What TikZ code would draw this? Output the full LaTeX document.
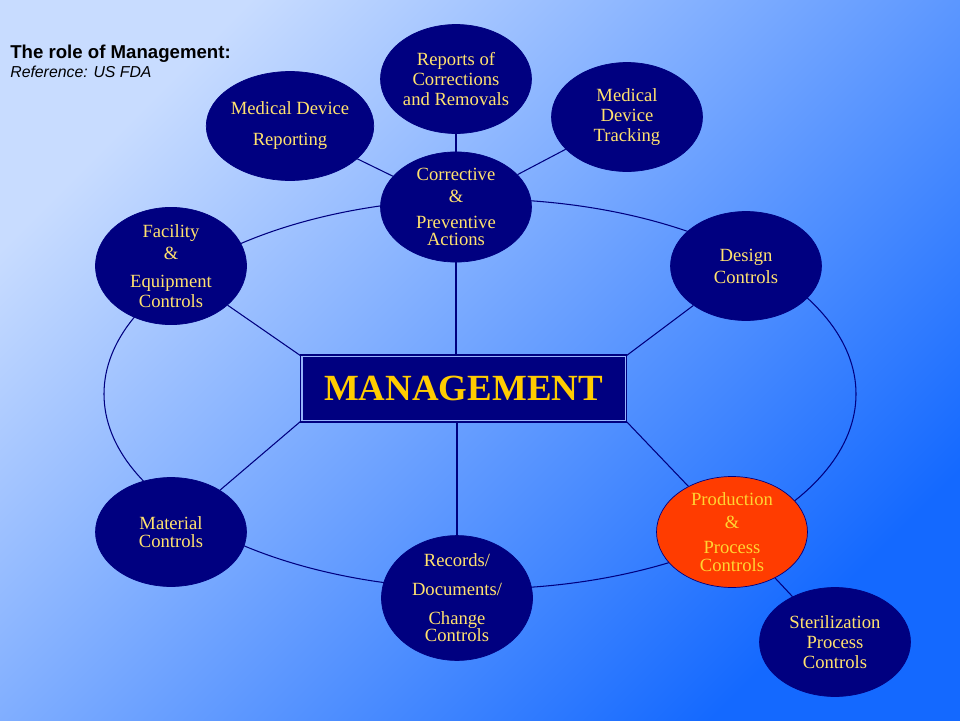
\documentclass[tikz,border=0pt]{standalone}
\usepackage{fontspec}
\setmainfont{Liberation Serif}
\newfontfamily\titlefont{Liberation Sans}
\usepackage{xcolor}
\usepackage{tikz}
\usetikzlibrary{shapes.geometric, positioning}

\definecolor{navy}{RGB}{0,0,128}
\definecolor{paleyellow}{RGB}{255,226,110}
\definecolor{gold}{RGB}{255,204,0}
\definecolor{redorange}{RGB}{255,60,0}
\definecolor{prodtext}{RGB}{255,212,50}
\definecolor{bgtop}{RGB}{200,220,255}
\definecolor{bgbottom}{RGB}{20,105,255}
\definecolor{band}{RGB}{150,180,250}

\begin{document}
\begin{tikzpicture}[x=0.02cm, y=-0.02cm,
    area/.style={ellipse, draw=navy, fill=navy, text=paleyellow, minimum width=3.02cm,
      minimum height=2.18cm, inner sep=0pt, align=center, font=\fontsize{10.6}{10}\selectfont},
    link/.style={draw=navy, line width=0.6pt}]
      \shade[top color=bgtop, bottom color=bgbottom, shading angle=45] (0,0) rectangle (960,720);
      \draw[link] (480,394) ellipse [x radius=376, y radius=195];

      \node[anchor=base west, inner sep=0pt, font=\titlefont\bfseries\fontsize{10.6}{12}\selectfont] (title) at (10,58) {The role of Management:};
      \node[anchor=base west, inner sep=0pt, font=\titlefont\itshape\fontsize{9}{11}\selectfont] (source) at (10,77) {Reference: US FDA};

      \node[draw=navy, line width=0.6pt, double=band, double distance=1.1pt, fill=navy,
        minimum width=6.48cm, minimum height=1.28cm, inner sep=0pt, text=gold,
        font=\bfseries\fontsize{21}{24}\selectfont] (mgmt) at (463.5,388.5) {MANAGEMENT};

      \node[area] (rep) at (456,79) {Reports of\\[1.6pt] Corrections\\[1.6pt] and Removals};
      \node[area] (mdr) at (290,126) {Medical Device\\[7.6pt] Reporting};
      \node[area] (track) at (627,117) {Medical\\[1.6pt] Device\\[1.6pt] Tracking};
      \node[area] (cap) at (456,207) {Corrective\\[2.5pt] \&\\[4.7pt] Preventive\\[0pt] Actions};
      \node[area] (fac) at (171,266) {Facility\\[2.5pt] \&\\[5.9pt] Equipment\\[1.3pt] Controls};
      \node[area] (design) at (746,266) {Design\\[2.5pt] Controls};
      \node[area] (mat) at (171,532) {Material\\ Controls};
      \node[area] (rec) at (457,598) {Records/\\[6.4pt] Documents/\\[6.4pt] Change\\ Controls};
      \node[area, fill=redorange, text=prodtext] (prod) at (732,532) {Production\\[3pt] \&\\[4.2pt] Process\\[0pt] Controls};
      \node[area] (ster) at (835,642) {Sterilization\\[1.3pt] Process\\[1.3pt] Controls};

      \draw[link] (cap) -- (cap |- mgmt.north);
      \draw[link] (rec) -- (rec |- mgmt.south);
      \draw[link] (mgmt.north west) -- (fac);
      \draw[link] (mgmt.north east) -- (design);
      \draw[link] (mgmt.south west) -- (mat);
      \draw[link] (mgmt.south east) -- (prod);
      \draw[link] (cap) -- (rep);
      \draw[link] (cap) -- (mdr);
      \draw[link] (cap) -- (track);
      \draw[link] (prod) -- (ster);
    \end{tikzpicture}
\end{document}
